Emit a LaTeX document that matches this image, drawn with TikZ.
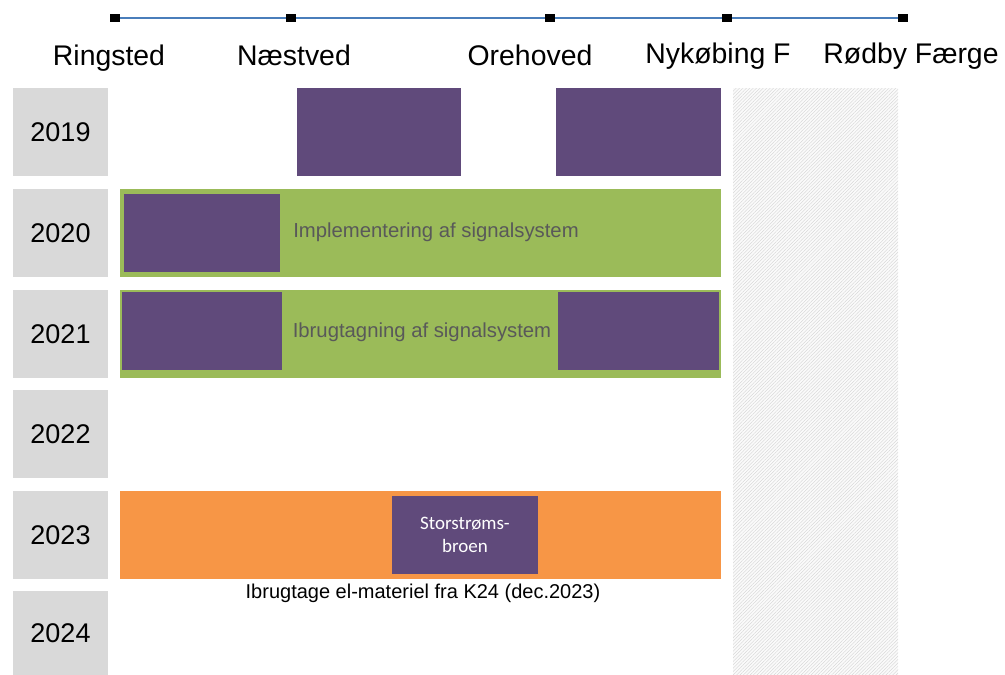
\documentclass[tikz,border=0pt]{standalone}
\usepackage{fontspec}
\setmainfont{Liberation Sans}
\newfontfamily\calib{Carlito}
\usetikzlibrary{patterns.meta}
\definecolor{purp}{HTML}{604A7B}
\definecolor{grn}{HTML}{9BBB59}
\definecolor{orng}{HTML}{F79646}
\definecolor{yeargray}{HTML}{D9D9D9}
\definecolor{lineblue}{HTML}{4A7EBB}
\definecolor{txtgray}{HTML}{595959}
\tikzset{
  box/.style={draw=none,inner sep=0pt,outer sep=0pt,anchor=north west},
  yearbox/.style={box,fill=yeargray,minimum width=95pt,minimum height=88pt,font=\fontsize{27}{30}\selectfont,text=black},
  purpbox/.style={box,fill=purp},
  bar/.style={box,minimum width=601pt,minimum height=88pt},
  station/.style={font=\fontsize{28.4}{30}\selectfont,text=black,inner sep=0pt,anchor=base},
  marker/.style={fill=black,minimum width=10pt,minimum height=8pt,inner sep=0pt},
  bartext/.style={font=\fontsize{20.3}{22}\selectfont,text=txtgray,inner sep=0pt}
}
\begin{document}
\begin{tikzpicture}[x=1pt,y=-1pt]
\useasboundingbox (0,0) rectangle (1005,675);
% hatched area
\path[fill=gray!4] (733,88) rectangle (898,675);
\path[pattern={Lines[angle=45,distance=2.4pt,line width=0.35pt]},pattern color=gray!35] (733,88) rectangle (898,675);
% timeline
\node[marker] (m1) at (115,18) {};
\node[marker] (m2) at (291,18) {};
\node[marker] (m3) at (550,18) {};
\node[marker] (m4) at (727,18) {};
\node[marker] (m5) at (903,18) {};
\draw[lineblue,line width=1.5pt] (m1.center) -- (m2.center) -- (m3.center) -- (m4.center) -- (m5.center);
\foreach \n in {m1,m2,m3,m4,m5}{\node[marker] at (\n) {};}
% stations
\node[station] (s1) at (109,65) {Ringsted};
\node[station] (s2) at (294,65) {Næstved};
\node[station] (s3) at (530,65) {Orehoved};
\node[station] (s4) at (718,63) {Nykøbing F};
\node[station] (s5) at (911,63) {Rødby Færge};
% year boxes
\node[yearbox] (y19) at (13,88) {2019};
\node[yearbox] (y20) at (13,189) {2020};
\node[yearbox] (y21) at (13,290) {2021};
\node[yearbox] (y22) at (13,390) {2022};
\node[yearbox] (y23) at (13,491) {2023};
\node[yearbox,minimum height=84pt] (y24) at (13,591) {2024};
% 2019
\node[purpbox,minimum width=164pt,minimum height=88pt] (p191) at (297,88) {};
\node[purpbox,minimum width=165pt,minimum height=88pt] (p192) at (556,88) {};
% 2020
\node[bar,fill=grn] (g20) at (120,189) {};
\node[purpbox,minimum width=156pt,minimum height=78pt] (p20) at (124,194) {};
\node[bartext] (t20) at (436,232) {Implementering af signalsystem};
% 2021
\node[bar,fill=grn] (g21) at (120,290) {};
\node[purpbox,minimum width=160pt,minimum height=78pt] (p211) at (122,292) {};
\node[purpbox,minimum width=161pt,minimum height=78pt] (p212) at (558,292) {};
\node[bartext] (t21) at (422,332) {Ibrugtagning af signalsystem};
% 2023
\node[bar,fill=orng] (o23) at (120,491) {};
\node[purpbox,minimum width=146pt,minimum height=78pt] (p23) at (392,496) {};
\node[text=white,font=\calib\fontsize{19}{23}\selectfont,align=center,inner sep=0pt] (t23) at (p23.center) {Storstrøms-\\broen};
\node[font=\fontsize{20}{22}\selectfont,text=black,inner sep=0pt] (k24) at (423,593) {Ibrugtage el-materiel fra K24 (dec.2023)};
\end{tikzpicture}
\end{document}
